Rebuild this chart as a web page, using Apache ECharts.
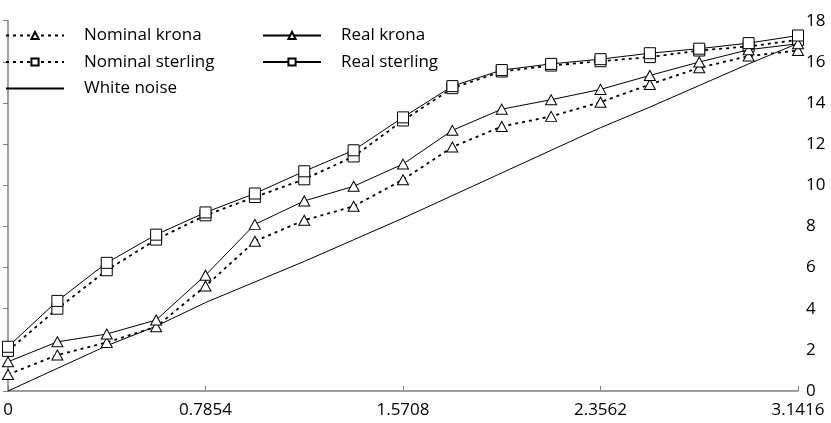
<!DOCTYPE html>
<html>
<head>
<meta charset="utf-8">
<script src="https://cdn.jsdelivr.net/npm/echarts@6/dist/echarts.min.js"></script>
<style>
html,body{margin:0;padding:0;background:#fff;}
#chart{width:831px;height:423px;}
</style>
</head>
<body>
<div id="chart"></div>
<script>
// Frequencies (x values)
var freqs = [0, 0.19635, 0.3927, 0.58905, 0.7854, 0.98175, 1.1781, 1.37445, 1.5708,
             1.76715, 1.9635, 2.15985, 2.3562, 2.55255, 2.7489, 2.94525, 3.1416];
var xTicks = [0, 0.7854, 1.5708, 2.3562, 3.1416];
var yTicks = [0, 2, 4, 6, 8, 10, 12, 14, 16, 18];

var nominalKrona   = [0.8, 1.75, 2.36, 3.12, 5.1, 7.28, 8.3, 8.98, 10.27, 11.86, 12.86, 13.35, 14.04, 14.9, 15.71, 16.28, 16.55];
var nominalSterling= [1.95, 4.0, 5.87, 7.36, 8.54, 9.43, 10.29, 11.4, 13.15, 14.72, 15.53, 15.82, 16.03, 16.23, 16.55, 16.75, 17.07];
var realKrona      = [1.42, 2.39, 2.77, 3.45, 5.63, 8.1, 9.24, 9.95, 11.03, 12.67, 13.7, 14.16, 14.66, 15.34, 15.99, 16.59, 16.88];
var realSterling   = [2.15, 4.38, 6.23, 7.6, 8.68, 9.6, 10.68, 11.7, 13.3, 14.82, 15.6, 15.9, 16.13, 16.42, 16.64, 16.91, 17.28];
var whiteNoise     = [0, 1.1, 2.2, 3.15, 4.3, 5.3, 6.3, 7.35, 8.4, 9.5, 10.6, 11.7, 12.8, 13.8, 14.85, 15.9, 16.9];

function pairs(ys){ return ys.map(function(y,i){ return [freqs[i], y]; }); }

var FONT = 'Open Sans';
var dashed = {color:'#000', width:1.8, type:[3,4]};
var solid = {color:'#000', width:1, type:'solid'};
var hollow = {color:'#fff', borderColor:'#000', borderWidth:1};
var legText = {fontFamily:FONT, fontSize:17, color:'#000', lineHeight:17, padding:[0,0,0,15]};

var chart = echarts.init(document.getElementById('chart'), null, {renderer:'canvas'});
chart.setOption({
  animation:false,
  backgroundColor:'#fff',
  textStyle:{fontFamily:FONT},
  grid:{left:8, right:33, top:20.7, bottom:32, containLabel:false},
  legend:[
    {
      data:['Nominal krona','Nominal sterling',{name:'White noise', itemStyle:{opacity:0}}],
      orient:'vertical', left:5, top:27, padding:0, itemWidth:58, itemHeight:9, itemGap:9.5,
      textStyle:legText, selectedMode:false
    },
    {
      data:['Real krona','Real sterling'],
      orient:'vertical', left:262, top:27, padding:0, itemWidth:58, itemHeight:9, itemGap:9.5,
      textStyle:legText, selectedMode:false
    }
  ],
  xAxis:{
    type:'value', min:xTicks[0], max:xTicks[xTicks.length-1], interval:xTicks[1],
    axisLine:{lineStyle:{color:'#808080', width:1.5}},
    axisTick:{inside:true, length:5, lineStyle:{color:'#808080'}},
    splitLine:{show:false},
    axisLabel:{margin:11, color:'#000', fontSize:17, fontFamily:FONT,
      formatter:function(v){ return v===0 ? '0' : (+v).toFixed(4); }}
  },
  yAxis:{
    type:'value', position:'right', min:yTicks[0], max:yTicks[yTicks.length-1], interval:yTicks[1]-yTicks[0],
    axisLine:{show:true, lineStyle:{color:'#808080', width:1.5}},
    axisTick:{show:true, inside:true, length:5, lineStyle:{color:'#808080'}},
    splitLine:{show:false},
    axisLabel:{margin:8, color:'#000', fontSize:17, fontFamily:FONT}
  },
  series:[
    {name:'White noise', type:'line', data:pairs(whiteNoise), showSymbol:false, symbol:'none',
      lineStyle:solid, itemStyle:{color:'#000'}, z:1},
    {name:'Nominal krona', type:'line', data:pairs(nominalKrona), symbol:'triangle', symbolSize:[11,10],
      lineStyle:dashed, itemStyle:hollow, z:2},
    {name:'Nominal sterling', type:'line', data:pairs(nominalSterling), symbol:'rect', symbolSize:11,
      lineStyle:dashed, itemStyle:hollow, z:2},
    {name:'Real krona', type:'line', data:pairs(realKrona), symbol:'triangle', symbolSize:[11,10],
      lineStyle:solid, itemStyle:hollow, z:3},
    {name:'Real sterling', type:'line', data:pairs(realSterling), symbol:'rect', symbolSize:11,
      lineStyle:solid, itemStyle:hollow, z:3}
  ]
});
</script>
</body>
</html>
